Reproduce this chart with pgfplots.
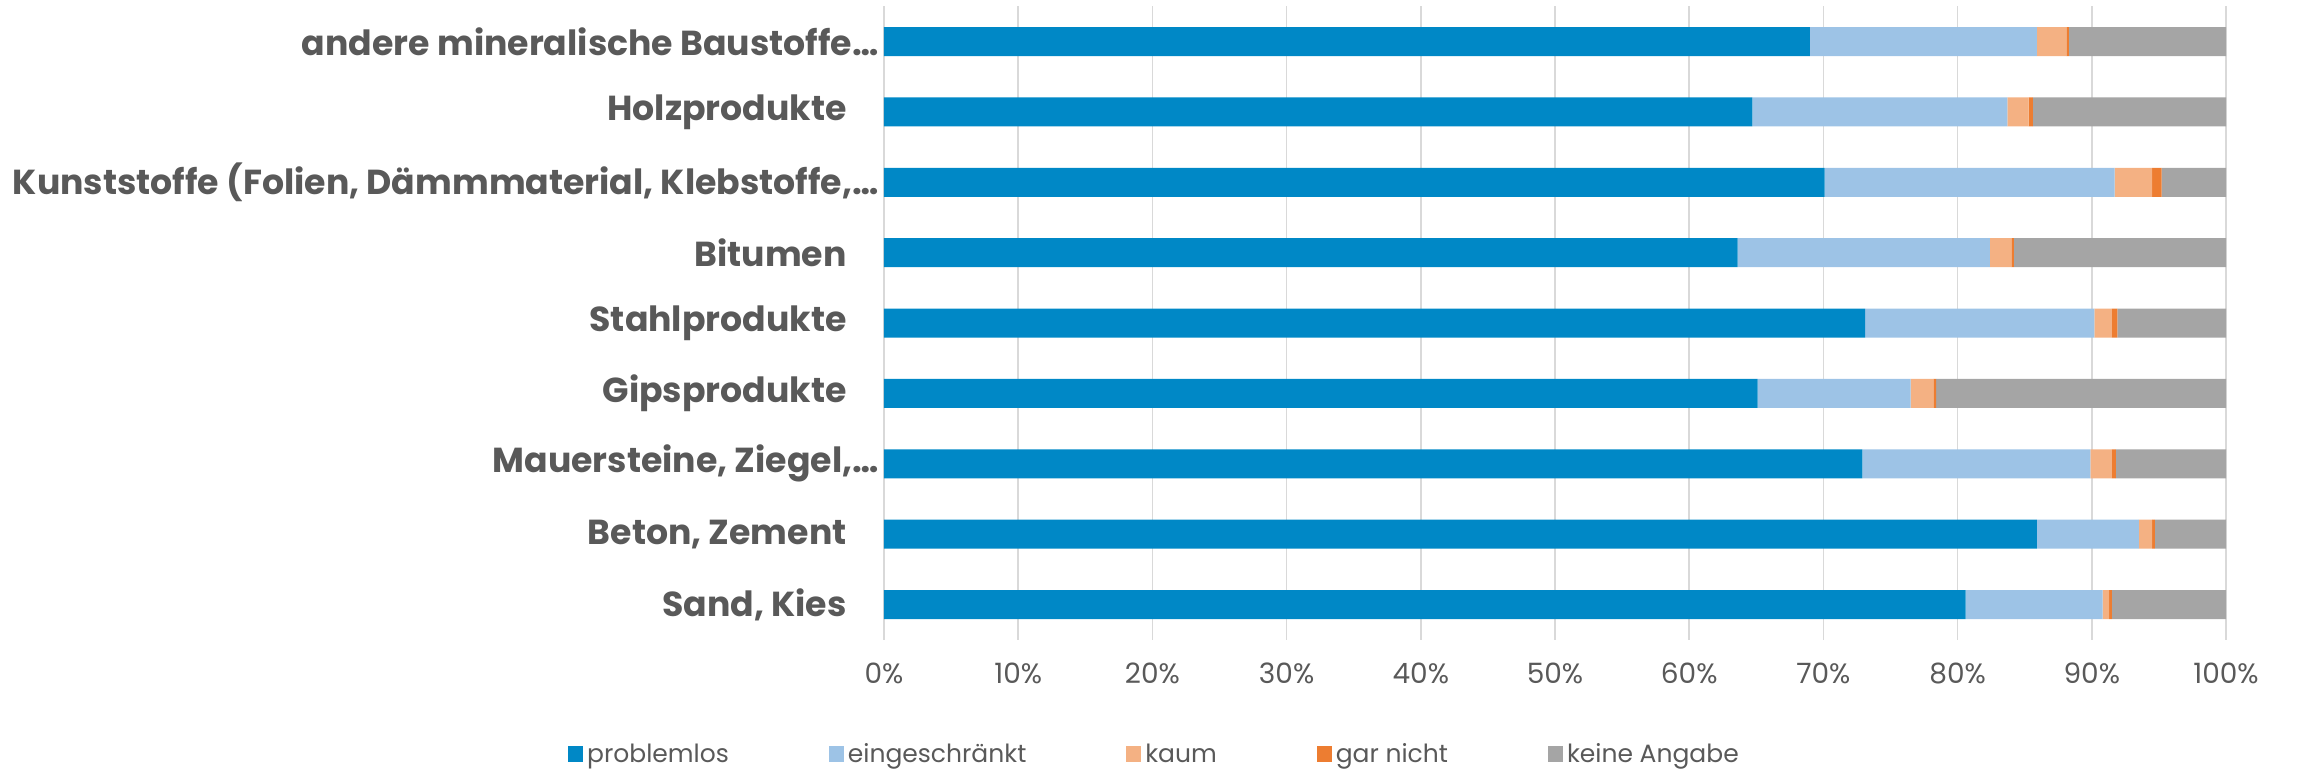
\documentclass[border=0pt]{standalone}
\usepackage{fontspec}
\setmainfont{Poppins}
\usepackage{pgfplots}
\usepackage{pgfplotstable}
\pgfplotsset{compat=1.18}

\definecolor{cProb}{HTML}{0088C6}
\definecolor{cEing}{HTML}{9DC3E6}
\definecolor{cKaum}{HTML}{F4B183}
\definecolor{cGar}{HTML}{ED7D31}
\definecolor{cKeine}{HTML}{A5A5A5}
\definecolor{txt}{HTML}{595959}
\definecolor{gridc}{HTML}{D9D9D9}

% y: 0 = bottom bar (Sand, Kies), 8 = top bar
\pgfplotstableread{
y p e k g n
0 80.6 10.2 0.5 0.2 8.5
1 85.9 7.6 1.0 0.2 5.3
2 72.9 17.0 1.6 0.3 8.2
3 65.1 11.4 1.7 0.2 21.6
4 73.1 17.1 1.3 0.4 8.1
5 63.6 18.8 1.6 0.2 15.8
6 70.1 21.6 2.8 0.7 4.8
7 64.7 19.0 1.6 0.3 14.4
8 69.0 16.9 2.2 0.2 11.7
}\shares

\begin{document}
\begin{tikzpicture}
\path[use as bounding box] (-442bp,-65.15bp) rectangle (706.5bp,319.85bp);
\begin{axis}[
    at={(0,0)}, anchor=south west,
    scale only axis,
    width=671bp, height=316.7bp,
    xbar stacked,
    bar width=14.5bp,
    xmin=0, xmax=100,
    ymin=-0.5, ymax=8.5,
    xtick={0,10,...,100},
    xticklabels={0\%,10\%,20\%,30\%,40\%,50\%,60\%,70\%,80\%,90\%,100\%},
    ytick={0,...,8},
    yticklabels={
        {Sand, Kies},
        {Beton, Zement},
        {Mauersteine, Ziegel,\ldots\kern-16bp},
        {Gipsprodukte},
        {Stahlprodukte},
        {Bitumen},
        {Kunststoffe (Folien, Dämmmaterial, Klebstoffe,\ldots\kern-16bp},
        {Holzprodukte},
        {andere mineralische Baustoffe\ldots\kern-16bp}},
    major tick length=0pt,
    axis line style={draw=none},
    xmajorgrids,
    grid style={draw=gridc, line width=0.75bp},
    /pgf/number format/assume math mode=true,
    xticklabel style={font=\fontsize{14bp}{16bp}\selectfont, text=txt, yshift=-8bp},
    yticklabel style={font=\fontsize{17.35bp}{20bp}\selectfont\bfseries, text=txt,
        inner sep=0pt, xshift=-18.5bp, anchor=east},
    legend columns=5,
    legend style={draw=none, at={(0.2023,-0.181)}, anchor=center,
        font=\fontsize{12.5bp}{14bp}\selectfont, text=txt,
        /tikz/every even column/.append style={column sep=48bp}},
    legend image code/.code={\fill[#1] (0bp,-4bp) rectangle (7.5bp,4bp);},
    every axis plot/.append style={draw=none},
]
\addplot[fill=cProb] table[x=p, y=y] {\shares};
\addlegendentry{problemlos}
\addplot[fill=cEing] table[x=e, y=y] {\shares};
\addlegendentry{eingeschränkt}
\addplot[fill=cKaum] table[x=k, y=y] {\shares};
\addlegendentry{kaum}
\addplot[fill=cGar] table[x=g, y=y] {\shares};
\addlegendentry{gar nicht}
\addplot[fill=cKeine] table[x=n, y=y] {\shares};
\addlegendentry{keine Angabe}
\end{axis}
\end{tikzpicture}
\end{document}
